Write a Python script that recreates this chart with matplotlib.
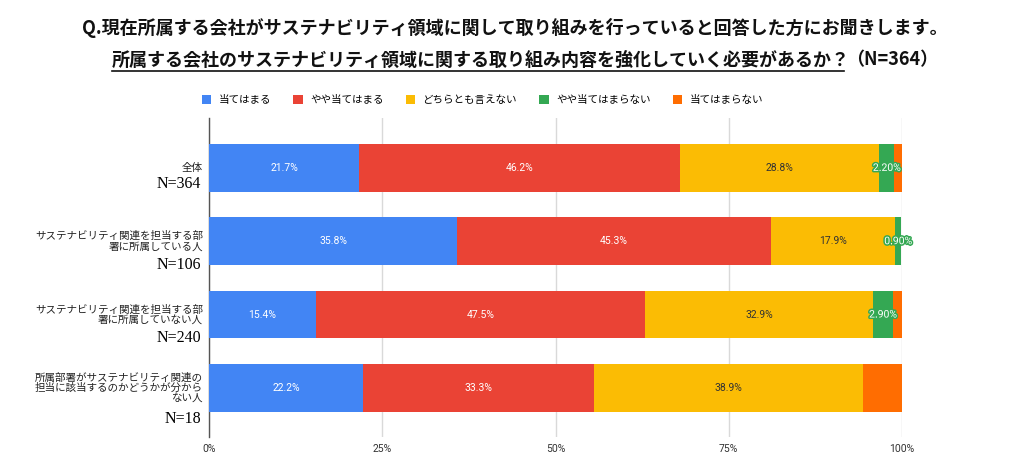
import matplotlib
matplotlib.use("Agg")
import matplotlib.pyplot as plt
import matplotlib.patheffects as pe
from matplotlib.lines import Line2D
from matplotlib.patches import Patch
import numpy as np

plt.rcParams['font.family'] = ['Noto Sans CJK JP', 'DejaVu Sans']

categories = ["全体",
              "サステナビリティ関連を担当する部\n署に所属している人",
              "サステナビリティ関連を担当する部\n署に所属していない人",
              "所属部署がサステナビリティ関連の\n担当に該当するのかどうかが分から\nない人"]
n_labels = ["N=364", "N=106", "N=240", "N=18"]
series_names = ["当てはまる", "やや当てはまる", "どちらとも言えない", "やや当てはまらない", "当てはまらない"]
values = {
    "当てはまる":        [21.7, 35.8, 15.4, 22.2],
    "やや当てはまる":    [46.2, 45.3, 47.5, 33.3],
    "どちらとも言えない": [28.8, 17.9, 32.9, 38.9],
    "やや当てはまらない": [2.2, 0.9, 2.9, 0.0],
    "当てはまらない":    [1.1, 0.0, 1.3, 5.6],
}
label_texts = {
    "当てはまる":        ["21.7%", "35.8%", "15.4%", "22.2%"],
    "やや当てはまる":    ["46.2%", "45.3%", "47.5%", "33.3%"],
    "どちらとも言えない": ["28.8%", "17.9%", "32.9%", "38.9%"],
    "やや当てはまらない": ["2.20%", "0.90%", "2.90%", ""],
    "当てはまらない":    ["", "", "", ""],
}
colors = ["#4285F4", "#EA4335", "#FBBC04", "#34A853", "#FF6D01"]
text_colors = ["white", "white", "#333333", "white", "white"]
xticks = [0, 25, 50, 75, 100]
xtick_labels = ["0%", "25%", "50%", "75%", "100%"]

W, H = 1022, 472
fig = plt.figure(figsize=(W / 100, H / 100), dpi=100)
ax = fig.add_axes([209 / W, 1 - 437 / H, (902 - 209) / W, (437 - 118) / H])

y = np.arange(len(categories))
left = np.zeros(len(categories))
for name, col, tc in zip(series_names, colors, text_colors):
    vals = np.array(values[name])
    ax.barh(y, vals, left=left, height=0.65, color=col, zorder=3)
    for i, (v, lt) in enumerate(zip(vals, label_texts[name])):
        if lt:
            cx = left[i] + v / 2
            if name == "やや当てはまらない":
                ax.text(cx, y[i], lt, ha='center', va='center', fontsize=7.5, color='white',
                        zorder=5, family=['Roboto', 'DejaVu Sans'],
                        path_effects=[pe.withStroke(linewidth=2.2, foreground=col)])
            else:
                ax.text(cx, y[i], lt, ha='center', va='center', fontsize=7.5, color=tc,
                        zorder=5, family=['Roboto', 'DejaVu Sans'])
    left += vals

ax.set_xlim(0, 100)
ax.set_ylim(3.67, -0.68)
ax.set_xticks(xticks)
ax.set_xticklabels(xtick_labels, fontsize=7.5, color='#333333', family=['Roboto', 'DejaVu Sans'])
ax.set_yticks([])
ax.tick_params(axis='x', length=0, pad=5)
ax.grid(axis='x', color='#d9d9d9', linewidth=1, zorder=0)
for s in ['top', 'right', 'bottom']:
    ax.spines[s].set_visible(False)
ax.spines['left'].set_color('#555555')
ax.spines['left'].set_linewidth(1)

trans = matplotlib.transforms.blended_transform_factory(fig.transFigure, ax.transData)
for i, (cat, nl) in enumerate(zip(categories, n_labels)):
    nlines = cat.count("\n") + 1
    ax.text(203 / W, y[i], cat, transform=trans, ha='right', va='center',
            fontsize=7.6, color='#222222', linespacing=1.0)
    ax.text(201 / W, y[i] + 0.12 + 0.1 * nlines, nl, transform=trans, ha='right', va='center',
            fontsize=11.5, color='black', family=['Liberation Serif', 'DejaVu Serif'])

# Legend
handles = [Patch(facecolor=c, edgecolor='none') for c in colors]
fig.legend(handles, series_names, loc='center left', bbox_to_anchor=(192 / W, 1 - 100 / H),
           ncol=5, frameon=False, fontsize=7.6, handlelength=0.9, handleheight=0.9,
           handletextpad=0.7, columnspacing=2.1)

# Titles
fig.text(515 / W, 1 - 28 / H,
         "Q.現在所属する会社がサステナビリティ領域に関して取り組みを行っていると回答した方にお聞きします。",
         ha='center', va='center', fontsize=13, fontweight='bold', color='#111111')
t2 = fig.text(112 / W, 1 - 60 / H,
              "所属する会社のサステナビリティ領域に関する取り組み内容を強化していく必要があるか？",
              ha='left', va='center', fontsize=13, fontweight='bold', color='#111111')
fig.canvas.draw()
r = fig.canvas.get_renderer()
bb = t2.get_window_extent(r)
fig.text((bb.x1 - 4) / W, 1 - 60 / H, "（N=364）", ha='left', va='center',
         fontsize=13, fontweight='bold', color='#111111')
fig.add_artist(Line2D([bb.x0 / W, (bb.x1 - 6) / W], [(bb.y0 - 1) / H, (bb.y0 - 1) / H],
                      transform=fig.transFigure, color='#111111', linewidth=1.2))

fig.savefig("out.png", dpi=100, facecolor='white')
